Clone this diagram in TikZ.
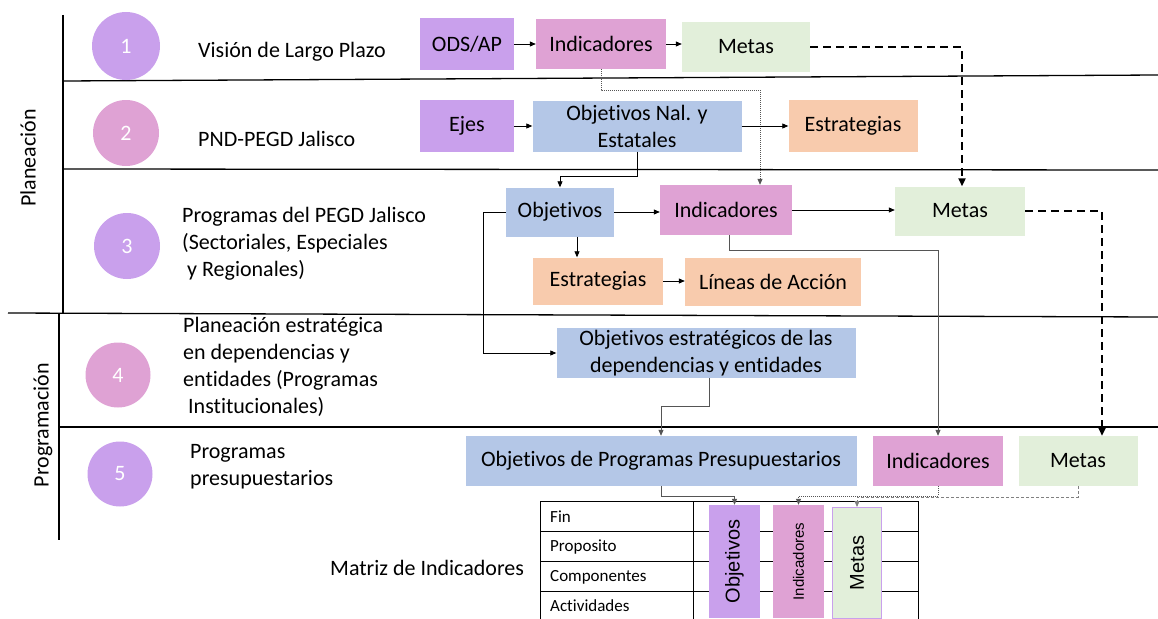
\documentclass[tikz,border=0pt]{standalone}
\usepackage{fontspec}
\setmainfont{Carlito}[Ligatures=NoCommon]
\newfontfamily\colfont{Liberation Sans}
\usetikzlibrary{arrows.meta,calc}
\definecolor{cpur}{HTML}{C9A0EC}
\definecolor{cpink}{HTML}{DFA2D4}
\definecolor{cgreen}{HTML}{E2EFDA}
\definecolor{cblue}{HTML}{B4C7E7}
\definecolor{corange}{HTML}{F8CBAD}
\definecolor{cline}{HTML}{555555}
\begin{document}
\begin{tikzpicture}[x=1pt,y=-1pt,
  every node/.style={font=\fontsize{22}{27}\selectfont, inner sep=0pt, text=black},
  bx/.style={align=center},
  num/.style={circle, minimum size=#1, text=white},
  lbl/.style={anchor=west, align=left},
  sect/.style={line width=1.3pt, black},
  arr/.style={-{Triangle[length=6pt,width=5pt]}, line width=0.8pt, black},
  garr/.style={-{Triangle[length=6pt,width=5pt]}, line width=0.8pt, cline},
  dotarr/.style={-{Triangle[length=6pt,width=5pt]}, line width=0.8pt, cline, dash pattern=on 1pt off 1pt},
  dasharr/.style={-{Triangle[length=8pt,width=7pt]}, line width=2.2pt, black, dash pattern=on 8pt off 5pt},
  gdasharr/.style={-{Triangle[length=6pt,width=5pt]}, line width=0.8pt, gray, dash pattern=on 3pt off 2pt},
  tbl/.style={font=\fontsize{17}{20}\selectfont, anchor=west},
  colbox/.style={minimum width=113pt, minimum height=51pt, rotate=90, font=\colfont\fontsize{20}{24}\selectfont}
]
\useasboundingbox (0,0) rectangle (1158,618);

% section lines
\draw[sect] (63,15) -- (63,313);
\draw[sect] (59,313) -- (59,540);
\draw[sect] (63,81) -- (1158,75);
\draw[sect] (63,169) -- (1158,170);
\draw[sect] (8,313) -- (1158,317);
\draw[sect] (59,427) -- (1158,427);

% side labels
\node[rotate=90] (plan) at (28,158) {Planeación};
\node[rotate=90] (prog) at (43,425) {Programación};

% circles
\node[num=68pt, fill=cpur] (c1) at (126,46) {1};
\node[num=66pt, fill=cpink] (c2) at (126,133) {2};
\node[num=66pt, fill=cpur] (c3) at (127,246) {3};
\node[num=65pt, fill=cpink] (c4) at (118,375) {4};
\node[num=65pt, fill=cpur] (c5) at (120,474) {5};

% level labels
\node[lbl] (t1) at (198,52) {Visión de Largo Plazo};
\node[lbl] (t2) at (198,139) {PND-PEGD Jalisco};
\node[lbl] (t3) at (182,244) {Programas del PEGD Jalisco\\(Sectoriales, Especiales\\\hspace{5pt}y Regionales)};
\node[lbl] (t4) at (183,367) {Planeación estratégica\\en dependencias y\\entidades (Programas\\\hspace{5pt}Institucionales)};
\node[lbl] (t5) at (190,467) {Programas\\presupuestarios};
\node[lbl] (t6) at (330,568) {Matriz de Indicadores};

% row 1
\node[bx, fill=cpur, minimum width=94pt, minimum height=52pt] (ods) at (467,44) {ODS/AP};
\node[bx, fill=cpink, minimum width=130pt, minimum height=50pt] (ind1) at (601,44) {Indicadores};
\node[bx, fill=cgreen, minimum width=128pt, minimum height=50pt] (met1) at (746,47) {Metas};

% row 2
\node[bx, fill=cpur, minimum width=94pt, minimum height=52pt] (ejes) at (467,126) {Ejes};
\node[bx, fill=cblue, minimum width=209pt, minimum height=51pt] (objn) at (637,126) {Objetivos Nal. y\\Estatales};
\node[bx, fill=corange, minimum width=129pt, minimum height=52pt] (est2) at (853,126) {Estrategias};

% row 3
\node[bx, fill=cblue, minimum width=108pt, minimum height=49pt] (obj3) at (560,212) {Objetivos};
\node[bx, fill=cpink, minimum width=132pt, minimum height=50pt] (ind3) at (726,210) {Indicadores};
\node[bx, fill=cgreen, minimum width=130pt, minimum height=49pt] (met3) at (960,211) {Metas};
\node[bx, fill=corange, minimum width=130pt, minimum height=47pt] (est3) at (598,281) {Estrategias};
\node[bx, fill=corange, minimum width=176pt, minimum height=48pt] (lin3) at (773,282) {Líneas de Acción};

% row 4
\node[bx, fill=cblue, minimum width=299pt, minimum height=50pt] (obj4) at (706,353) {Objetivos estratégicos de las\\dependencias y entidades};

% row 5
\node[bx, fill=cblue, minimum width=391pt, minimum height=50pt] (obj5) at (661,461) {Objetivos de Programas Presupuestarios};
\node[bx, fill=cpink, minimum width=130pt, minimum height=50pt] (ind5) at (938,461) {Indicadores};
\node[bx, fill=cgreen, minimum width=119pt, minimum height=50pt] (met5) at (1078,461) {Metas};

% matrix table
\draw[line width=1pt, black] (540,625) -- (540,501) -- (918,501) -- (918,625);
\draw[line width=1pt, black] (693,501) -- (693,625);
\draw[line width=1pt, black] (540,531) -- (918,531);
\draw[line width=1pt, black] (540,561) -- (918,561);
\draw[line width=1pt, black] (540,591) -- (918,591);
\node[tbl] (fin) at (550,517) {Fin};
\node[tbl] (pro) at (550,547) {Proposito};
\node[tbl] (com) at (550,577) {Componentes};
\node[tbl] (act) at (550,606) {Actividades};

\node[colbox, fill=cpur] (mobj) at (734.5,561.5) {Objetivos};
\node[colbox, fill=cpink, font=\colfont\fontsize{15}{18}\selectfont] (mind) at (798.5,561.5) {Indicadores};
\node[colbox, fill=cgreen, draw=cpur, line width=1pt, minimum width=111pt, minimum height=49pt] (mmet) at (857,563) {Metas};

% connectors
\draw[arr] (ods) -- (ind1);
\draw[arr] (ind1.east) -- (ind1.east -| met1.west);
\draw[dasharr] (met1.east) -| ([xshift=2pt]met3.north);
\draw[dotarr] (ind1.south) -- ++(0,21) -| ([xshift=34pt]ind3.north);
\draw[arr] (ejes) -- (objn);
\draw[arr] (objn.east) -- (est2.west);
\draw[arr] (objn.south) -- ++(0,25) -| (obj3.north);
\draw[arr] (obj3.east) -- (obj3.east -| ind3.west);
\draw[arr] (ind3.east) -- (ind3.east -| met3.west);
\draw[dasharr] (met3.east) -| ([xshift=24pt]met5.north);
\draw[arr] ([xshift=17pt]obj3.south) -- ([xshift=17pt]obj3.south |- est3.north);
\draw[arr] (est3.east) -- (est3.east -| lin3.west);
\draw[arr] (obj3.west) -- ++(-22,0) |- (obj4.west);
\draw[garr] ([xshift=3pt]ind3.south) -- ++(0,15) -| (ind5.north);
\draw[garr] ([xshift=3pt]obj4.south) -- ++(0,28) -| (obj5.north);
\draw[garr] (obj5.south) -- ++(0,10) -| (mobj.east);
\draw[dotarr] (ind5.south) -- ++(0,10) -| (mind.east);
\draw[gdasharr] (met5.south) -- ++(0,11) -| (mmet.east);
\end{tikzpicture}
\end{document}
